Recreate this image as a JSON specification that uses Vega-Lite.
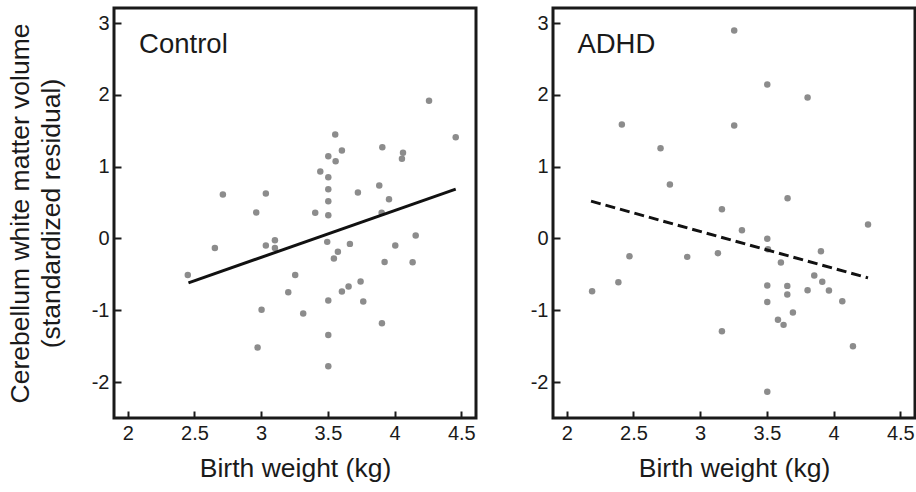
{
  "$schema": "https://vega.github.io/schema/vega-lite/v6.json",
  "padding": {"left": 5, "top": 6, "right": 0, "bottom": 0},
  "spacing": 50,
  "background": "white",
  "config": {
    "font": "Liberation Sans",
    "view": {"stroke": "#1a1a1a", "strokeWidth": 3},
    "axis": {
      "domain": false,
      "grid": false,
      "ticks": true,
      "tickSize": -7,
      "tickWidth": 2,
      "tickColor": "#1a1a1a",
      "labelFont": "Liberation Sans",
      "labelFontSize": 20,
      "labelColor": "#1a1a1a",
      "titleFont": "Liberation Sans",
      "titleFontSize": 26.5,
      "titleFontWeight": "normal",
      "titleColor": "#1a1a1a"
    }
  },
  "datasets": {
    "points": [
      {"group": "Control", "bw": 4.258, "res": 1.917},
      {"group": "Control", "bw": 4.458, "res": 1.41},
      {"group": "Control", "bw": 3.555, "res": 1.448},
      {"group": "Control", "bw": 3.605, "res": 1.225},
      {"group": "Control", "bw": 3.503, "res": 1.146},
      {"group": "Control", "bw": 3.558, "res": 1.077},
      {"group": "Control", "bw": 3.908, "res": 1.272},
      {"group": "Control", "bw": 4.063, "res": 1.193},
      {"group": "Control", "bw": 4.055, "res": 1.109},
      {"group": "Control", "bw": 3.443, "res": 0.933},
      {"group": "Control", "bw": 3.503, "res": 0.854},
      {"group": "Control", "bw": 3.503, "res": 0.687},
      {"group": "Control", "bw": 3.503, "res": 0.52},
      {"group": "Control", "bw": 3.503, "res": 0.325},
      {"group": "Control", "bw": 3.725, "res": 0.64},
      {"group": "Control", "bw": 3.885, "res": 0.738},
      {"group": "Control", "bw": 3.958, "res": 0.547},
      {"group": "Control", "bw": 2.713, "res": 0.613},
      {"group": "Control", "bw": 3.035, "res": 0.627},
      {"group": "Control", "bw": 2.963, "res": 0.362},
      {"group": "Control", "bw": 3.405, "res": 0.357},
      {"group": "Control", "bw": 3.903, "res": 0.357},
      {"group": "Control", "bw": 2.45, "res": -0.507},
      {"group": "Control", "bw": 2.653, "res": -0.131},
      {"group": "Control", "bw": 3.035, "res": -0.098},
      {"group": "Control", "bw": 3.103, "res": -0.024},
      {"group": "Control", "bw": 3.103, "res": -0.131},
      {"group": "Control", "bw": 3.495, "res": -0.047},
      {"group": "Control", "bw": 3.665, "res": -0.075},
      {"group": "Control", "bw": 3.575, "res": -0.186},
      {"group": "Control", "bw": 3.545, "res": -0.279},
      {"group": "Control", "bw": 4.005, "res": -0.098},
      {"group": "Control", "bw": 4.158, "res": 0.042},
      {"group": "Control", "bw": 3.925, "res": -0.326},
      {"group": "Control", "bw": 4.135, "res": -0.33},
      {"group": "Control", "bw": 3.255, "res": -0.507},
      {"group": "Control", "bw": 3.203, "res": -0.748},
      {"group": "Control", "bw": 3.745, "res": -0.599},
      {"group": "Control", "bw": 3.655, "res": -0.669},
      {"group": "Control", "bw": 3.605, "res": -0.738},
      {"group": "Control", "bw": 3.503, "res": -0.864},
      {"group": "Control", "bw": 3.765, "res": -0.878},
      {"group": "Control", "bw": 3.003, "res": -0.994},
      {"group": "Control", "bw": 3.315, "res": -1.045},
      {"group": "Control", "bw": 3.905, "res": -1.18},
      {"group": "Control", "bw": 3.503, "res": -1.343},
      {"group": "Control", "bw": 2.973, "res": -1.518},
      {"group": "Control", "bw": 3.503, "res": -1.779},
      {"group": "ADHD", "bw": 3.255, "res": 2.897},
      {"group": "ADHD", "bw": 3.503, "res": 2.145},
      {"group": "ADHD", "bw": 3.805, "res": 1.964},
      {"group": "ADHD", "bw": 2.413, "res": 1.588},
      {"group": "ADHD", "bw": 3.255, "res": 1.574},
      {"group": "ADHD", "bw": 2.703, "res": 1.258},
      {"group": "ADHD", "bw": 2.773, "res": 0.752},
      {"group": "ADHD", "bw": 3.655, "res": 0.561},
      {"group": "ADHD", "bw": 3.163, "res": 0.408},
      {"group": "ADHD", "bw": 4.258, "res": 0.195},
      {"group": "ADHD", "bw": 3.313, "res": 0.116},
      {"group": "ADHD", "bw": 3.503, "res": -0.005},
      {"group": "ADHD", "bw": 3.508, "res": -0.149},
      {"group": "ADHD", "bw": 3.133, "res": -0.205},
      {"group": "ADHD", "bw": 2.47, "res": -0.247},
      {"group": "ADHD", "bw": 2.903, "res": -0.256},
      {"group": "ADHD", "bw": 3.905, "res": -0.177},
      {"group": "ADHD", "bw": 3.605, "res": -0.334},
      {"group": "ADHD", "bw": 2.19, "res": -0.734},
      {"group": "ADHD", "bw": 2.387, "res": -0.609},
      {"group": "ADHD", "bw": 3.503, "res": -0.655},
      {"group": "ADHD", "bw": 3.653, "res": -0.66},
      {"group": "ADHD", "bw": 3.653, "res": -0.78},
      {"group": "ADHD", "bw": 3.855, "res": -0.515},
      {"group": "ADHD", "bw": 3.915, "res": -0.604},
      {"group": "ADHD", "bw": 3.805, "res": -0.72},
      {"group": "ADHD", "bw": 3.965, "res": -0.724},
      {"group": "ADHD", "bw": 3.503, "res": -0.883},
      {"group": "ADHD", "bw": 4.065, "res": -0.873},
      {"group": "ADHD", "bw": 3.695, "res": -1.031},
      {"group": "ADHD", "bw": 3.583, "res": -1.133},
      {"group": "ADHD", "bw": 3.625, "res": -1.203},
      {"group": "ADHD", "bw": 3.163, "res": -1.291},
      {"group": "ADHD", "bw": 4.145, "res": -1.5},
      {"group": "ADHD", "bw": 3.503, "res": -2.136}
    ],
    "fits": [
      {"group": "Control", "bw": 2.455, "res": -0.618},
      {"group": "Control", "bw": 4.458, "res": 0.687},
      {"group": "ADHD", "bw": 2.182, "res": 0.52},
      {"group": "ADHD", "bw": 4.258, "res": -0.549}
    ],
    "panelnames": [
      {"group": "Control", "lx": 2.085, "ly": 2.577},
      {"group": "ADHD", "lx": 2.08, "ly": 2.577}
    ]
  },
  "hconcat": [
    {
      "width": 362,
      "height": 410,
      "layer": [
        {"data": {"name": "points"}, "transform": [{"filter": "datum.group === 'Control'"}],
         "mark": {"type": "circle", "size": 42, "color": "#8c8c8c", "opacity": 1},
         "encoding": {
           "x": {"field": "bw", "type": "quantitative",
                 "scale": {"domain": [1.897, 4.61], "nice": false, "zero": false},
                 "axis": {"title": "Birth weight (kg)", "values": [2, 2.5, 3, 3.5, 4, 4.5], "labelExpr": "'' + datum.value", "labelPadding": 12, "titlePadding": 12}},
           "y": {"field": "res", "type": "quantitative",
                 "scale": {"domain": [-2.5, 3.21], "nice": false, "zero": false},
                 "axis": {"title": ["Cerebellum white matter volume", "(standardized residual)"], "titleLineHeight": 31, "values": [-2, -1, 0, 1, 2, 3], "labelExpr": "'' + datum.value", "labelPadding": 12, "titlePadding": 26}}
         }},
        {"data": {"name": "fits"}, "transform": [{"filter": "datum.group === 'Control'"}],
         "mark": {"type": "line", "color": "#111111", "strokeWidth": 3},
         "encoding": {
           "x": {"field": "bw", "type": "quantitative"},
           "y": {"field": "res", "type": "quantitative"}
         }},
        {"data": {"name": "panelnames"}, "transform": [{"filter": "datum.group === 'Control'"}],
         "mark": {"type": "text", "align": "left", "baseline": "alphabetic", "fontSize": 27.5, "color": "#1a1a1a", "font": "Liberation Sans"},
         "encoding": {
           "x": {"field": "lx", "type": "quantitative"},
           "y": {"field": "ly", "type": "quantitative"},
           "text": {"field": "group", "type": "nominal"}
         }}
      ]
    },
    {
      "width": 362,
      "height": 410,
      "layer": [
        {"data": {"name": "points"}, "transform": [{"filter": "datum.group === 'ADHD'"}],
         "mark": {"type": "circle", "size": 42, "color": "#8c8c8c", "opacity": 1},
         "encoding": {
           "x": {"field": "bw", "type": "quantitative",
                 "scale": {"domain": [1.897, 4.61], "nice": false, "zero": false},
                 "axis": {"title": "Birth weight (kg)", "values": [2, 2.5, 3, 3.5, 4, 4.5], "labelExpr": "'' + datum.value", "labelPadding": 12, "titlePadding": 12}},
           "y": {"field": "res", "type": "quantitative",
                 "scale": {"domain": [-2.5, 3.21], "nice": false, "zero": false},
                 "axis": {"title": null, "values": [-2, -1, 0, 1, 2, 3], "labelExpr": "'' + datum.value", "labelPadding": 12}}
         }},
        {"data": {"name": "fits"}, "transform": [{"filter": "datum.group === 'ADHD'"}],
         "mark": {"type": "line", "color": "#111111", "strokeWidth": 3, "strokeDash": [10, 5]},
         "encoding": {
           "x": {"field": "bw", "type": "quantitative"},
           "y": {"field": "res", "type": "quantitative"}
         }},
        {"data": {"name": "panelnames"}, "transform": [{"filter": "datum.group === 'ADHD'"}],
         "mark": {"type": "text", "align": "left", "baseline": "alphabetic", "fontSize": 27.5, "color": "#1a1a1a", "font": "Liberation Sans"},
         "encoding": {
           "x": {"field": "lx", "type": "quantitative"},
           "y": {"field": "ly", "type": "quantitative"},
           "text": {"field": "group", "type": "nominal"}
         }}
      ]
    }
  ]
}
